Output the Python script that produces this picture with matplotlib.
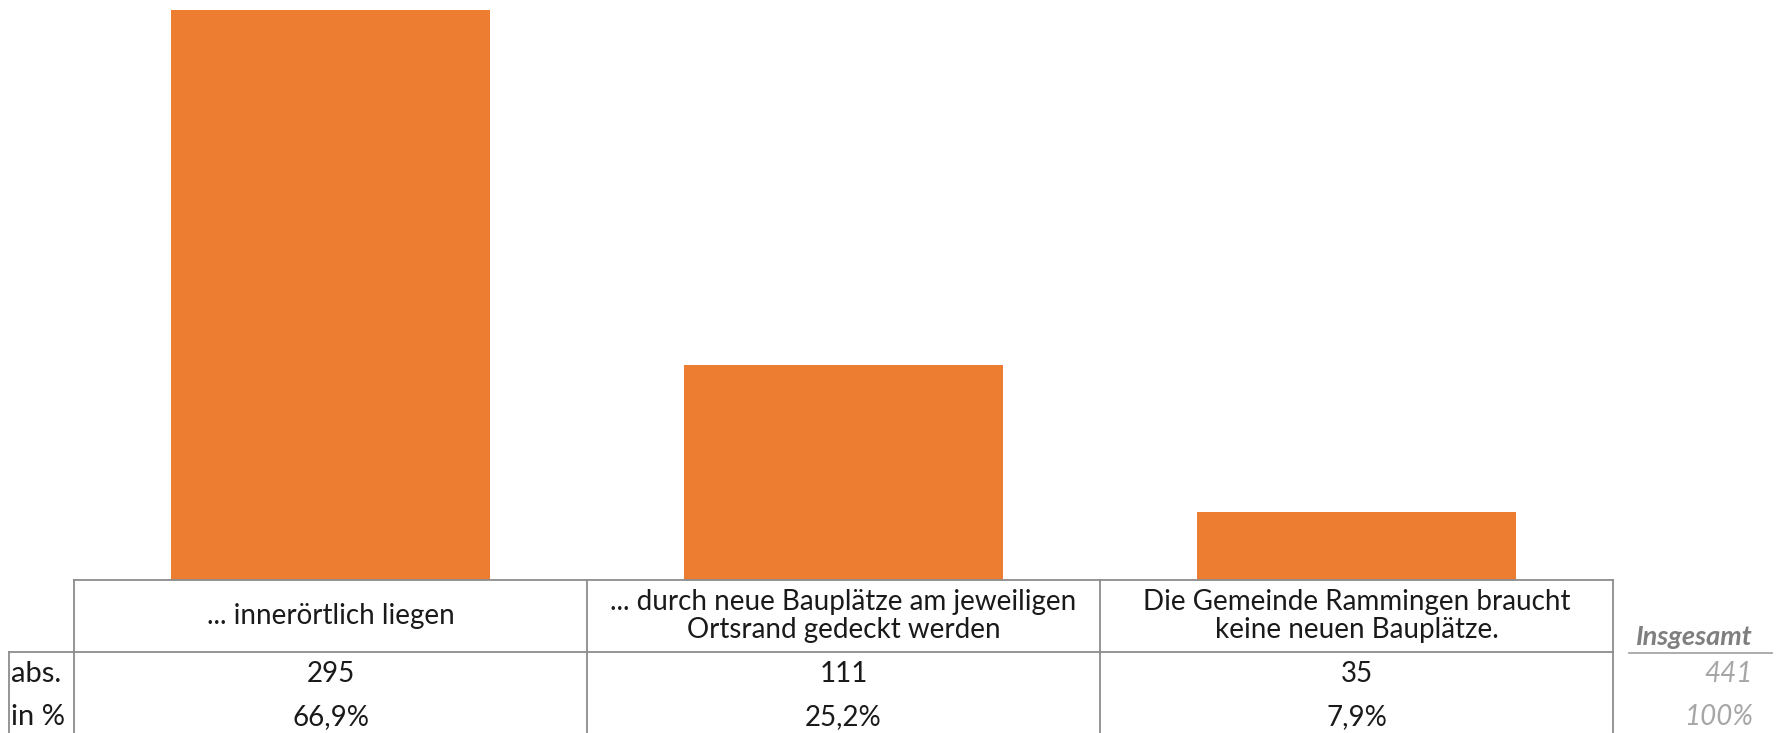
import matplotlib.pyplot as plt
from matplotlib.lines import Line2D
from matplotlib.transforms import blended_transform_factory

plt.rcParams['font.family'] = ['Lato', 'DejaVu Sans']

categories = ['... innerörtlich liegen',
              '... durch neue Bauplätze am jeweiligen\nOrtsrand gedeckt werden',
              'Die Gemeinde Rammingen braucht\nkeine neuen Bauplätze.']
counts = [295, 111, 35]
shares = ['66,9%', '25,2%', '7,9%']
row_labels = ['abs.', 'in %']
total_label = 'Insgesamt'
total_values = ['441', '100%']

W, H = 1779, 733
fig = plt.figure(figsize=(W / 100, H / 100), dpi=100)


def fx(px):
    return px / W


def fy(px):
    return 1 - px / H


# bar area sits directly on top of the table
ax = fig.add_axes([fx(74), fy(580), fx(1613) - fx(74), 580 / H])
xs = list(range(len(categories)))
ax.bar(xs, counts, width=0.62, color='#ED7D31')
ax.set_xlim(-0.5, len(categories) - 0.5)
ax.set_ylim(0, 300)
ax.axis('off')

# table below: x follows the bar categories, y in figure fraction
trans = blended_transform_factory(ax.transData, fig.transFigure)
grid = '#8c8c8c'
lw = 1.3
y_top, y_head, y_bot = fy(580), fy(652), 0
n = len(categories)

ax.add_line(Line2D([-0.5, n - 0.5], [y_top, y_top], color=grid, lw=lw, transform=trans, clip_on=False))
ax.add_line(Line2D([-0.5, n - 0.5], [y_head, y_head], color=grid, lw=lw, transform=trans, clip_on=False))
for b in range(n + 1):
    ax.add_line(Line2D([b - 0.5, b - 0.5], [y_top, y_bot], color=grid, lw=lw, transform=trans, clip_on=False))

# row label column
fig.add_artist(Line2D([fx(9), fx(74)], [y_head, y_head], color=grid, lw=lw))
fig.add_artist(Line2D([fx(9), fx(9)], [y_head, y_bot], color=grid, lw=lw))

row_y = [fy(674), fy(717)]
fs = 20
txt = '#1a1a1a'
for i, cat in enumerate(categories):
    ax.text(i, (y_top + y_head) / 2, cat, transform=trans, ha='center', va='center',
            fontsize=fs, color=txt, linespacing=1.1)
    ax.text(i, row_y[0], str(counts[i]), transform=trans, ha='center', va='center',
            fontsize=fs, color=txt)
    ax.text(i, row_y[1], shares[i], transform=trans, ha='center', va='center',
            fontsize=fs, color=txt)

for lab, y in zip(row_labels, row_y):
    fig.text(fx(11), y, lab, ha='left', va='center', fontsize=fs + 1, color=txt)

# totals column
fig.text(fx(1753), fy(637), total_label, ha='right', va='center', fontsize=19.5,
         fontweight='bold', fontstyle='italic', color='#7f7f7f')
fig.add_artist(Line2D([fx(1629), fx(1772)], [fy(653), fy(653)], color='#a6a6a6', lw=lw))
for v, y in zip(total_values, row_y):
    fig.text(fx(1753), y, v, ha='right', va='center', fontsize=20,
             fontstyle='italic', color='#a6a6a6')

fig.savefig('out.png', dpi=100)
